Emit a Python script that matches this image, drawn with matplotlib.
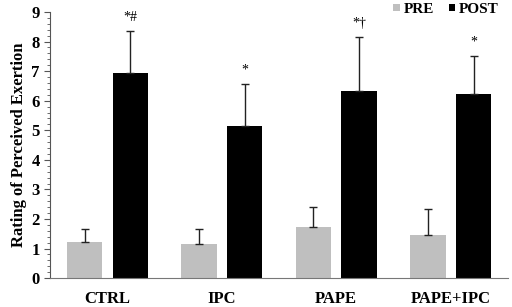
import numpy as np
import matplotlib
matplotlib.use("Agg")
import matplotlib.pyplot as plt
from matplotlib.ticker import MultipleLocator

plt.rcParams['font.family'] = ['Liberation Serif', 'DejaVu Serif']
plt.rcParams['font.weight'] = 'bold'

# Data
conditions = ['CTRL', 'IPC', 'PAPE', 'PAPE+IPC']
pre_mean = [1.22, 1.15, 1.73, 1.45]
pre_sd = [0.44, 0.51, 0.68, 0.89]
post_mean = [6.93, 5.14, 6.33, 6.22]
post_sd = [1.42, 1.41, 1.82, 1.30]
post_marks = ['*#', '*', '*\u2020', '*']

fig = plt.figure(figsize=(5.12, 3.07), dpi=100)
ax = fig.add_axes([0.098, 0.094, 0.894, 0.867])

x = np.arange(len(conditions))
w = 0.31
err_kw = dict(ecolor='#222222', elinewidth=1.0, capsize=3, capthick=1.0)
ax.bar(x - 0.2, pre_mean, w, color='#bfbfbf', label='PRE',
       yerr=[np.zeros(len(pre_sd)), pre_sd], error_kw=err_kw)
ax.bar(x + 0.2, post_mean, w, color='black', label='POST',
       yerr=[np.zeros(len(post_sd)), post_sd], error_kw=err_kw)

for xi, m, s, lab in zip(x, post_mean, post_sd, post_marks):
    ax.text(xi + 0.2, m + s + 0.25, lab, ha='center', va='bottom',
            fontsize=10, fontweight='normal')

ax.set_xlim(-0.5, 3.5)
ax.set_ylim(0, 9)
ax.set_xticks(x)
ax.set_xticklabels(conditions, fontsize=12, fontweight='bold')
ax.tick_params(axis='x', length=0, pad=9)
ax.yaxis.set_major_locator(MultipleLocator(1))
ax.yaxis.set_minor_locator(MultipleLocator(0.2))
ax.tick_params(axis='y', which='major', length=4, labelsize=12, color='#555555')
ax.tick_params(axis='y', which='minor', length=2.5, color='#555555')
for lab in ax.get_yticklabels():
    lab.set_fontweight('bold')
ax.set_ylabel('Rating of Perceived Exertion', fontsize=12, fontweight='bold', labelpad=3)

ax.spines['top'].set_visible(False)
ax.spines['right'].set_visible(False)
ax.spines['left'].set_color('#555555')
ax.spines['bottom'].set_color('#777777')

leg = ax.legend(loc='upper right', bbox_to_anchor=(1.01, 1.085), ncol=2, frameon=False,
                fontsize=11, handlelength=0.4, handleheight=0.4, handletextpad=0.25,
                columnspacing=1.0)

fig.savefig('out.png', dpi=100)
